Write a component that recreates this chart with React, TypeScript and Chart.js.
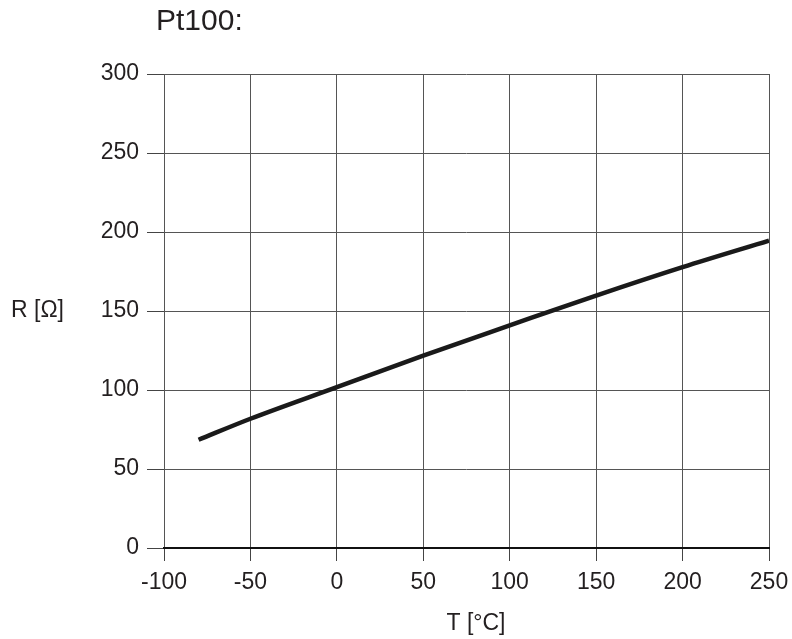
import React, { useEffect, useRef } from "react";
import { Chart, registerables } from "chart.js";

Chart.register(...registerables);

const TEMPERATURES = [-80, -50, 0, 50, 100, 150, 200, 250];
const RESISTANCES = [68.5, 81.8, 101.8, 121.8, 140.9, 159.8, 177.8, 194.6];
const X_MIN = -100;
const X_MAX = 250;
const X_STEP = 50;
const Y_MIN = 0;
const Y_MAX = 300;
const Y_STEP = 50;
const TITLE = "Pt100:";
const X_LABEL = "T [°C]";
const Y_LABEL = "R [Ω]";

const FONT = '"Liberation Sans", Arial, sans-serif';
const TEXT_COLOR = "#231f20";

const labelsPlugin = {
  id: "labelsPlugin",
  afterDraw(chart: any) {
    const ctx = chart.ctx;
    ctx.save();
    ctx.fillStyle = TEXT_COLOR;
    ctx.textBaseline = "alphabetic";
    ctx.font = `30px ${FONT}`;
    ctx.textAlign = "left";
    ctx.fillText(TITLE, 156, 30);
    ctx.font = `23px ${FONT}`;
    ctx.fillText(Y_LABEL, 11, 317);
    ctx.textAlign = "center";
    ctx.fillText(X_LABEL, 476, 630);
    ctx.restore();
  },
};

export default function App() {
  const ref = useRef<HTMLCanvasElement | null>(null);

  useEffect(() => {
    document.body.style.margin = "0";
    const canvas = ref.current;
    if (!canvas) return;
    const chart = new Chart(canvas, {
      type: "line",
      data: {
        datasets: [
          {
            data: TEMPERATURES.map((t, i) => ({ x: t, y: RESISTANCES[i] })),
            borderColor: "#1a1a1a",
            borderWidth: 4.5,
            pointRadius: 0,
            cubicInterpolationMode: "monotone",
            fill: false,
          },
        ],
      },
      options: {
        animation: false,
        responsive: false,
        devicePixelRatio: 1,
        layout: { padding: { top: 74, left: 0, right: 23, bottom: 0 } },
        plugins: {
          legend: { display: false },
          title: { display: false },
          tooltip: { enabled: false },
        },
        scales: {
          x: {
            type: "linear",
            min: X_MIN,
            max: X_MAX,
            afterFit(scale: any) {
              scale.height = 91;
              scale.paddingLeft = 0;
              scale.paddingRight = 0;
            },
            ticks: {
              stepSize: X_STEP,
              color: TEXT_COLOR,
              font: { family: FONT, size: 23 },
              padding: 8,
              maxRotation: 0,
            },
            grid: {
              color: "#555",
              lineWidth: 1,
              tickLength: 13,
              tickColor: "#444",
            },
            border: { display: true, color: "#111", width: 2 },
          },
          y: {
            type: "linear",
            min: Y_MIN,
            max: Y_MAX,
            afterFit(scale: any) {
              scale.width = 164;
            },
            ticks: {
              stepSize: Y_STEP,
              color: TEXT_COLOR,
              font: { family: FONT, size: 23 },
              padding: 8,
            },
            grid: {
              color: "#555",
              lineWidth: 1,
              tickLength: 17,
              tickColor: "#444",
            },
            border: { display: false },
          },
        },
      },
      plugins: [labelsPlugin],
    } as any);
    return () => chart.destroy();
  }, []);

  return (
    <div style={{ width: 792, height: 639 }}>
      <canvas ref={ref} width={792} height={639} style={{ display: "block", width: 792, height: 639 }} />
    </div>
  );
}
